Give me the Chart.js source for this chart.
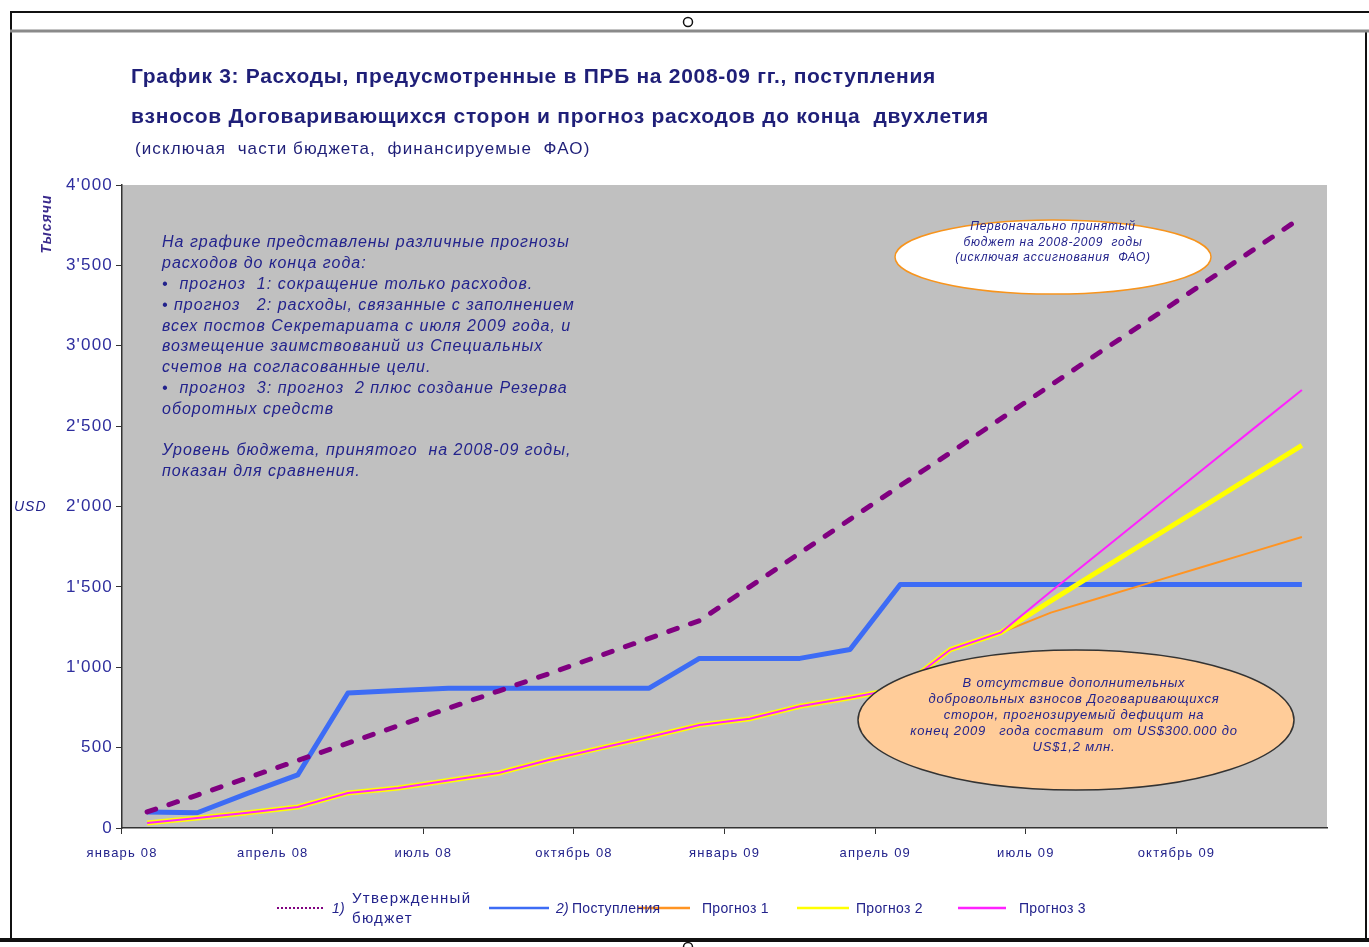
<!DOCTYPE html>
<html lang="ru">
<head>
<meta charset="utf-8">
<title>График 3</title>
<script src="https://cdn.jsdelivr.net/npm/chart.js@4.4.1/dist/chart.umd.min.js"></script>
<style>
  html, body { margin: 0; padding: 0; background: #fff; }
  #chart { display: block; }
</style>
</head>
<body>
<canvas id="chart" width="1369" height="947"></canvas>
<script>
// месяцы (категории оси X)
const months = ['январь 08', 'февраль 08', 'март 08', 'апрель 08', 'май 08', 'июнь 08',
  'июль 08', 'август 08', 'сентябрь 08', 'октябрь 08', 'ноябрь 08', 'декабрь 08',
  'январь 09', 'февраль 09', 'март 09', 'апрель 09', 'май 09', 'июнь 09',
  'июль 09', 'август 09', 'сентябрь 09', 'октябрь 09', 'ноябрь 09', 'декабрь 09'];

// тыс. USD
const budget = [100, 205, 312, 420, 528, 636, 745, 852, 960, 1070, 1180, 1290,
  1500, 1710, 1920, 2130, 2335, 2545, 2755, 2965, 3170, 3380, 3590, 3800];
const receipts = [100, 95, 215, 330, 840, 855, 870, 870, 870, 870, 870, 1055,
  1055, 1055, 1110, 1515, 1515, 1515, 1515, 1515, 1515, 1515, 1515, 1515];
const forecast1 = [31, 62, 95, 131, 218, 249, 295, 342, 423, 495, 566, 641,
  680, 757, 810, 870, 1110, 1215, 1340, 1434, 1528, 1622, 1716, 1810];
const forecast2 = [31, 62, 95, 131, 218, 249, 295, 342, 423, 495, 566, 641,
  680, 757, 810, 870, 1110, 1215, 1413, 1607, 1800, 1993, 2187, 2380];
const forecast3 = [31, 62, 95, 131, 218, 249, 295, 342, 423, 495, 566, 641,
  680, 757, 810, 870, 1110, 1215, 1471, 1722, 1973, 2224, 2475, 2725];

const yTicks = [0, 500, 1000, 1500, 2000, 2500, 3000, 3500, 4000];

const titleLines = [
  'График 3: Расходы, предусмотренные в ПРБ на 2008-09 гг., поступления',
  'взносов Договаривающихся сторон и прогноз расходов до конца  двухлетия'
];
const subTitle = '(исключая  части бюджета,  финансируемые  ФАО)';

const noteLines = [
  'На графике представлены различные прогнозы',
  'расходов до конца года:',
  '•  прогноз  1: сокращение только расходов.',
  '• прогноз   2: расходы, связанные с заполнением',
  'всех постов Секретариата с июля 2009 года, и',
  'возмещение заимствований из Специальных',
  'счетов на согласованные цели.',
  '•  прогноз  3: прогноз  2 плюс создание Резерва',
  'оборотных средств',
  '',
  'Уровень бюджета, принятого  на 2008-09 годы,',
  'показан для сравнения.'
];
const budgetNote = ['Первоначально принятый', 'бюджет на 2008-2009  годы', '(исключая ассигнования  ФАО)'];
const deficitNote = ['В отсутствие дополнительных', 'добровольных взносов Договаривающихся',
  'сторон, прогнозируемый дефицит на', 'конец 2009   года составит  от US$300.000 до', 'US$1,2 млн.'];

const FONT = '"Liberation Sans", Arial, sans-serif';
const NAVY = '#23238c';

function fmtThousands(v) {
  if (v < 1000) return String(v);
  return Math.floor(v / 1000) + "'" + String(v % 1000).padStart(3, '0');
}

function ellipse(ctx, cx, cy, rx, ry, fill, stroke) {
  ctx.beginPath();
  ctx.ellipse(cx, cy, rx, ry, 0, 0, Math.PI * 2);
  ctx.fillStyle = fill;
  ctx.fill();
  ctx.lineWidth = 1.5;
  ctx.strokeStyle = stroke;
  ctx.stroke();
}

const decor = {
  id: 'decor',
  beforeDraw(chart) {
    const ctx = chart.ctx;
    const a = chart.chartArea;
    ctx.save();
    ctx.fillStyle = '#fff';
    ctx.fillRect(0, 0, chart.width, chart.height);
    // рамка объекта
    ctx.strokeStyle = '#111';
    ctx.lineWidth = 2;
    ctx.beginPath();
    ctx.moveTo(10, 12); ctx.lineTo(1369, 12);
    ctx.moveTo(11, 12); ctx.lineTo(11, 940);
    ctx.moveTo(1366, 30); ctx.lineTo(1366, 940);
    ctx.stroke();
    ctx.strokeStyle = '#8a8a8a';
    ctx.lineWidth = 3;
    ctx.beginPath();
    ctx.moveTo(10, 31); ctx.lineTo(1369, 31);
    ctx.stroke();
    ctx.strokeStyle = '#111';
    ctx.lineWidth = 4;
    ctx.beginPath();
    ctx.moveTo(0, 940); ctx.lineTo(1369, 940);
    ctx.stroke();
    ellipse(ctx, 688, 22, 4.5, 4.5, '#fff', '#111');
    ellipse(ctx, 688, 947, 4.5, 4.5, '#fff', '#111');
    // фон области построения
    ctx.fillStyle = '#c0c0c0';
    ctx.fillRect(a.left, a.top, a.right - a.left, a.bottom - a.top);
    ctx.restore();
    // разрядка подписей осей (как в исходной картинке)
    ctx.letterSpacing = '1.2px';
  },
  afterDatasetsDraw(chart) {
    const ctx = chart.ctx;
    ctx.save();
    // пояснительный текст
    ctx.fillStyle = NAVY;
    ctx.font = 'italic 16px ' + FONT;
    ctx.letterSpacing = '1px';
    ctx.textBaseline = 'middle';
    ctx.textAlign = 'left';
    noteLines.forEach((t, i) => ctx.fillText(t, 162, 243 + i * 20.8));

    ellipse(ctx, 1053, 257, 158, 37, '#fff', '#f7941d');
    ctx.fillStyle = NAVY;
    ctx.font = 'italic 12px ' + FONT;
    ctx.letterSpacing = '0.8px';
    ctx.textAlign = 'center';
    budgetNote.forEach((t, i) => ctx.fillText(t, 1053, 227 + i * 15.5));

    ellipse(ctx, 1076, 720, 218, 70, '#ffcc99', '#333');
    ctx.fillStyle = NAVY;
    ctx.font = 'italic 13px ' + FONT;
    ctx.letterSpacing = '0.8px';
    deficitNote.forEach((t, i) => ctx.fillText(t, 1074, 683 + i * 16.2));
    ctx.restore();
  },
  afterDraw(chart) {
    const ctx = chart.ctx;
    ctx.save();
    ctx.textBaseline = 'middle';
    ctx.textAlign = 'left';
    ctx.fillStyle = '#1f1f78';
    ctx.font = 'bold 21px ' + FONT;
    ctx.letterSpacing = '0.7px';
    titleLines.forEach((t, i) => ctx.fillText(t, 131, 77 + i * 40));
    ctx.font = '17px ' + FONT;
    ctx.letterSpacing = '1.1px';
    ctx.fillText(subTitle, 135, 149);

    // подписи оси Y
    ctx.fillStyle = NAVY;
    ctx.font = 'italic 14px ' + FONT;
    ctx.letterSpacing = '1px';
    ctx.fillText('USD', 14, 507);
    ctx.save();
    ctx.translate(47, 224);
    ctx.rotate(-Math.PI / 2);
    ctx.textAlign = 'center';
    ctx.font = 'bold italic 14px ' + FONT;
    ctx.fillStyle = '#3a2a8c';
    ctx.fillText('Тысячи', 0, 0);
    ctx.restore();

    // легенда
    const y = 908;
    const ds = chart.data.datasets;
    const items = [
      { i: 0, x1: 277, x2: 323 },
      { i: 1, x1: 489, x2: 549 },
      { i: 2, x1: 638, x2: 690 },
      { i: 3, x1: 797, x2: 849 },
      { i: 4, x1: 958, x2: 1006 }
    ];
    items.forEach(it => {
      const d = ds[it.i];
      ctx.beginPath();
      ctx.strokeStyle = d.borderColor;
      ctx.lineWidth = it.i === 0 ? 2 : 2.5;
      ctx.setLineDash(it.i === 0 ? [2, 2] : []);
      ctx.moveTo(it.x1, y);
      ctx.lineTo(it.x2, y);
      ctx.stroke();
      ctx.setLineDash([]);
    });
    ctx.fillStyle = NAVY;
    ctx.font = 'italic 14px ' + FONT;
    ctx.letterSpacing = '0.3px';
    ctx.fillText('1)', 332, y + 1);
    ctx.fillText('2)', 556, y + 1);
    ctx.font = '14px ' + FONT;
    ctx.fillText('Поступления', 572, y + 1);
    ctx.fillText('Прогноз 1', 702, y + 1);
    ctx.fillText('Прогноз 2', 856, y + 1);
    ctx.fillText('Прогноз 3', 1019, y + 1);
    ctx.font = '15px ' + FONT;
    ctx.letterSpacing = '1.3px';
    ctx.fillText('Утвержденный', 352, 899);
    ctx.fillText('бюджет', 352, 919);
    ctx.restore();
  }
};

new Chart(document.getElementById('chart'), {
  type: 'line',
  data: {
    labels: months,
    datasets: [
      { label: '1) Утвержденный бюджет', data: budget, borderColor: '#800080', borderWidth: 5,
        borderDash: [9, 14], borderCapStyle: 'round', order: 3 },
      { label: '2) Поступления', data: receipts, borderColor: '#3d6cf5', borderWidth: 5,
        borderJoinStyle: 'round', order: 4 },
      { label: 'Прогноз 1', data: forecast1, borderColor: '#ff9422', borderWidth: 2, order: 2 },
      { label: 'Прогноз 2', data: forecast2, borderColor: '#ffff00', borderWidth: 5, order: 1 },
      { label: 'Прогноз 3', data: forecast3, borderColor: '#ff22ff', borderWidth: 2, order: 0 }
    ]
  },
  options: {
    responsive: false,
    animation: false,
    events: [],
    elements: { point: { radius: 0 }, line: { tension: 0, fill: false } },
    layout: { padding: { left: 0, right: 42, top: 185, bottom: 0 } },
    plugins: { legend: { display: false }, title: { display: false }, tooltip: { enabled: false } },
    scales: {
      x: {
        type: 'category',
        offset: true,
        afterFit(scale) { scale.height = 119; },
        border: { display: true, color: '#333', width: 1.5 },
        grid: {
          offset: true,
          drawOnChartArea: false,
          drawTicks: true,
          tickLength: 6,
          color: c => (c.index % 3 === 0 ? '#333' : 'rgba(0,0,0,0)')
        },
        ticks: {
          autoSkip: false,
          maxRotation: 0,
          padding: 12,
          labelOffset: -25,
          color: NAVY,
          font: { family: FONT, size: 13 },
          callback: (v, i) => (i % 3 === 0 ? months[i] : '')
        }
      },
      y: {
        min: 0,
        max: 4000,
        afterFit(scale) { scale.width = 122; },
        afterBuildTicks(scale) { scale.ticks = yTicks.map(v => ({ value: v })); },
        border: { display: true, color: '#333', width: 1.5 },
        grid: { drawOnChartArea: false, drawTicks: true, tickLength: 6, color: '#333' },
        ticks: {
          padding: 3,
          color: '#2e2e9e',
          font: { family: FONT, size: 17 },
          callback: v => fmtThousands(v)
        }
      }
    }
  },
  plugins: [decor]
});
</script>
</body>
</html>
